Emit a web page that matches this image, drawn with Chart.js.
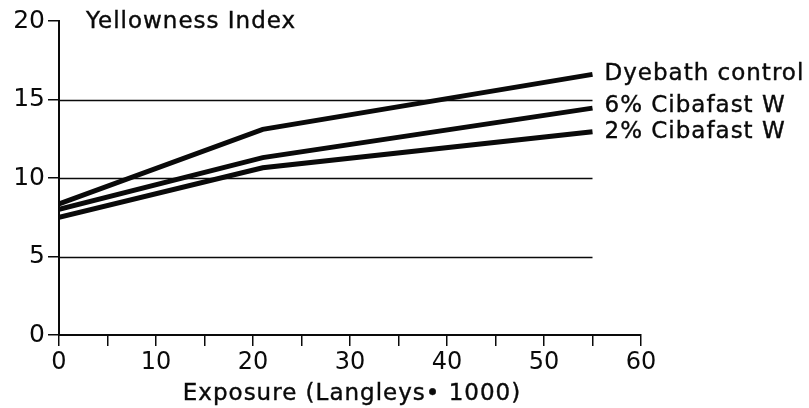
<!DOCTYPE html>
<html>
<head>
<meta charset="utf-8">
<script src="https://cdn.jsdelivr.net/npm/chart.js@4"></script>
<style>
  html, body { margin: 0; padding: 0; background: #fff; }
  #wrap { width: 809px; height: 408px; }
</style>
</head>
<body>
<div id="wrap"><canvas id="c" width="809" height="408"></canvas></div>
<script>
const exposure = [0, 21, 55];
const dyebathControl = [8.35, 13.1, 16.6];
const cibafast6 = [8.0, 11.3, 14.45];
const cibafast2 = [7.5, 10.65, 12.95];
const seriesNames = ["Dyebath control", "6% Cibafast W", "2% Cibafast W"];
const gridValues = [5, 10, 15];
const gridEndX = 55;
const yTitle = "Yellowness Index";
const xTitle = "Exposure (Langleys\u2022 1000)";

const FONT = "DejaVu Sans";
const INK = "#0a0a0a";

function pts(vals) { return exposure.map((x, i) => ({ x: x, y: vals[i] })); }

const annot = {
  id: 'annot',
  beforeDatasetsDraw(chart) {
    const { ctx, scales: { x, y } } = chart;
    ctx.save();
    ctx.strokeStyle = INK;
    ctx.lineWidth = 1.5;
    gridValues.forEach(v => {
      const py = Math.round(y.getPixelForValue(v)) + 0.5;
      ctx.beginPath();
      ctx.moveTo(x.getPixelForValue(0), py);
      ctx.lineTo(x.getPixelForValue(gridEndX), py);
      ctx.stroke();
    });
    ctx.restore();
  },
  afterDraw(chart) {
    const { ctx, scales: { x, y } } = chart;
    ctx.save();
    ctx.fillStyle = INK;
    ctx.strokeStyle = INK;
    ctx.lineWidth = 0.4;
    ctx.font = "23px '" + FONT + "'";
    ctx.letterSpacing = "1px";
    ctx.textBaseline = "middle";
    ctx.textAlign = "left";
    const put = (t, px, py) => { ctx.fillText(t, px, py); ctx.strokeText(t, px, py); };
    put(yTitle, x.left + 27, y.getPixelForValue(20) + 1);
    const series = [dyebathControl, cibafast6, cibafast2];
    series.forEach((s, i) => {
      const last = s.length - 1;
      put(seriesNames[i], x.getPixelForValue(exposure[last]) + 12, y.getPixelForValue(s[last]) - (i === 1 ? 2 : 0));
    });
    ctx.textAlign = "center";
    put(xTitle, (x.left + x.right) / 2 + 2, 394);
    ctx.restore();
  }
};

const ds = (label, vals) => ({
  label: label,
  data: pts(vals),
  borderColor: INK,
  borderWidth: 5,
  pointRadius: 0,
  tension: 0,
  fill: false
});

new Chart(document.getElementById('c'), {
  type: 'line',
  data: {
    datasets: [
      ds(seriesNames[0], dyebathControl),
      ds(seriesNames[1], cibafast6),
      ds(seriesNames[2], cibafast2)
    ]
  },
  options: {
    responsive: false,
    animation: false,
    layout: { padding: { top: 21, right: 168, left: 0, bottom: 0 } },
    plugins: { legend: { display: false }, tooltip: { enabled: false }, title: { display: false } },
    scales: {
      x: {
        type: 'linear',
        min: 0, max: 60,
        ticks: {
          stepSize: 5,
          autoSkip: false,
          maxRotation: 0,
          color: INK,
          font: { family: FONT, size: 24 },
          padding: 2,
          callback: v => (v % 10 === 0 ? String(v) : '')
        },
        grid: { drawOnChartArea: false, drawTicks: true, tickLength: 11, color: INK, lineWidth: 1.5 },
        border: { color: INK, width: 2 },
        afterFit: s => { s.height = 73; }
      },
      y: {
        min: 0, max: 20,
        ticks: {
          stepSize: 5,
          color: INK,
          font: { family: FONT, size: 25 },
          padding: 3
        },
        grid: { drawOnChartArea: false, drawTicks: true, tickLength: 11, color: INK, lineWidth: 1.5 },
        border: { color: INK, width: 2 },
        afterFit: s => { s.width = 59; }
      }
    }
  },
  plugins: [annot]
});
</script>
</body>
</html>
